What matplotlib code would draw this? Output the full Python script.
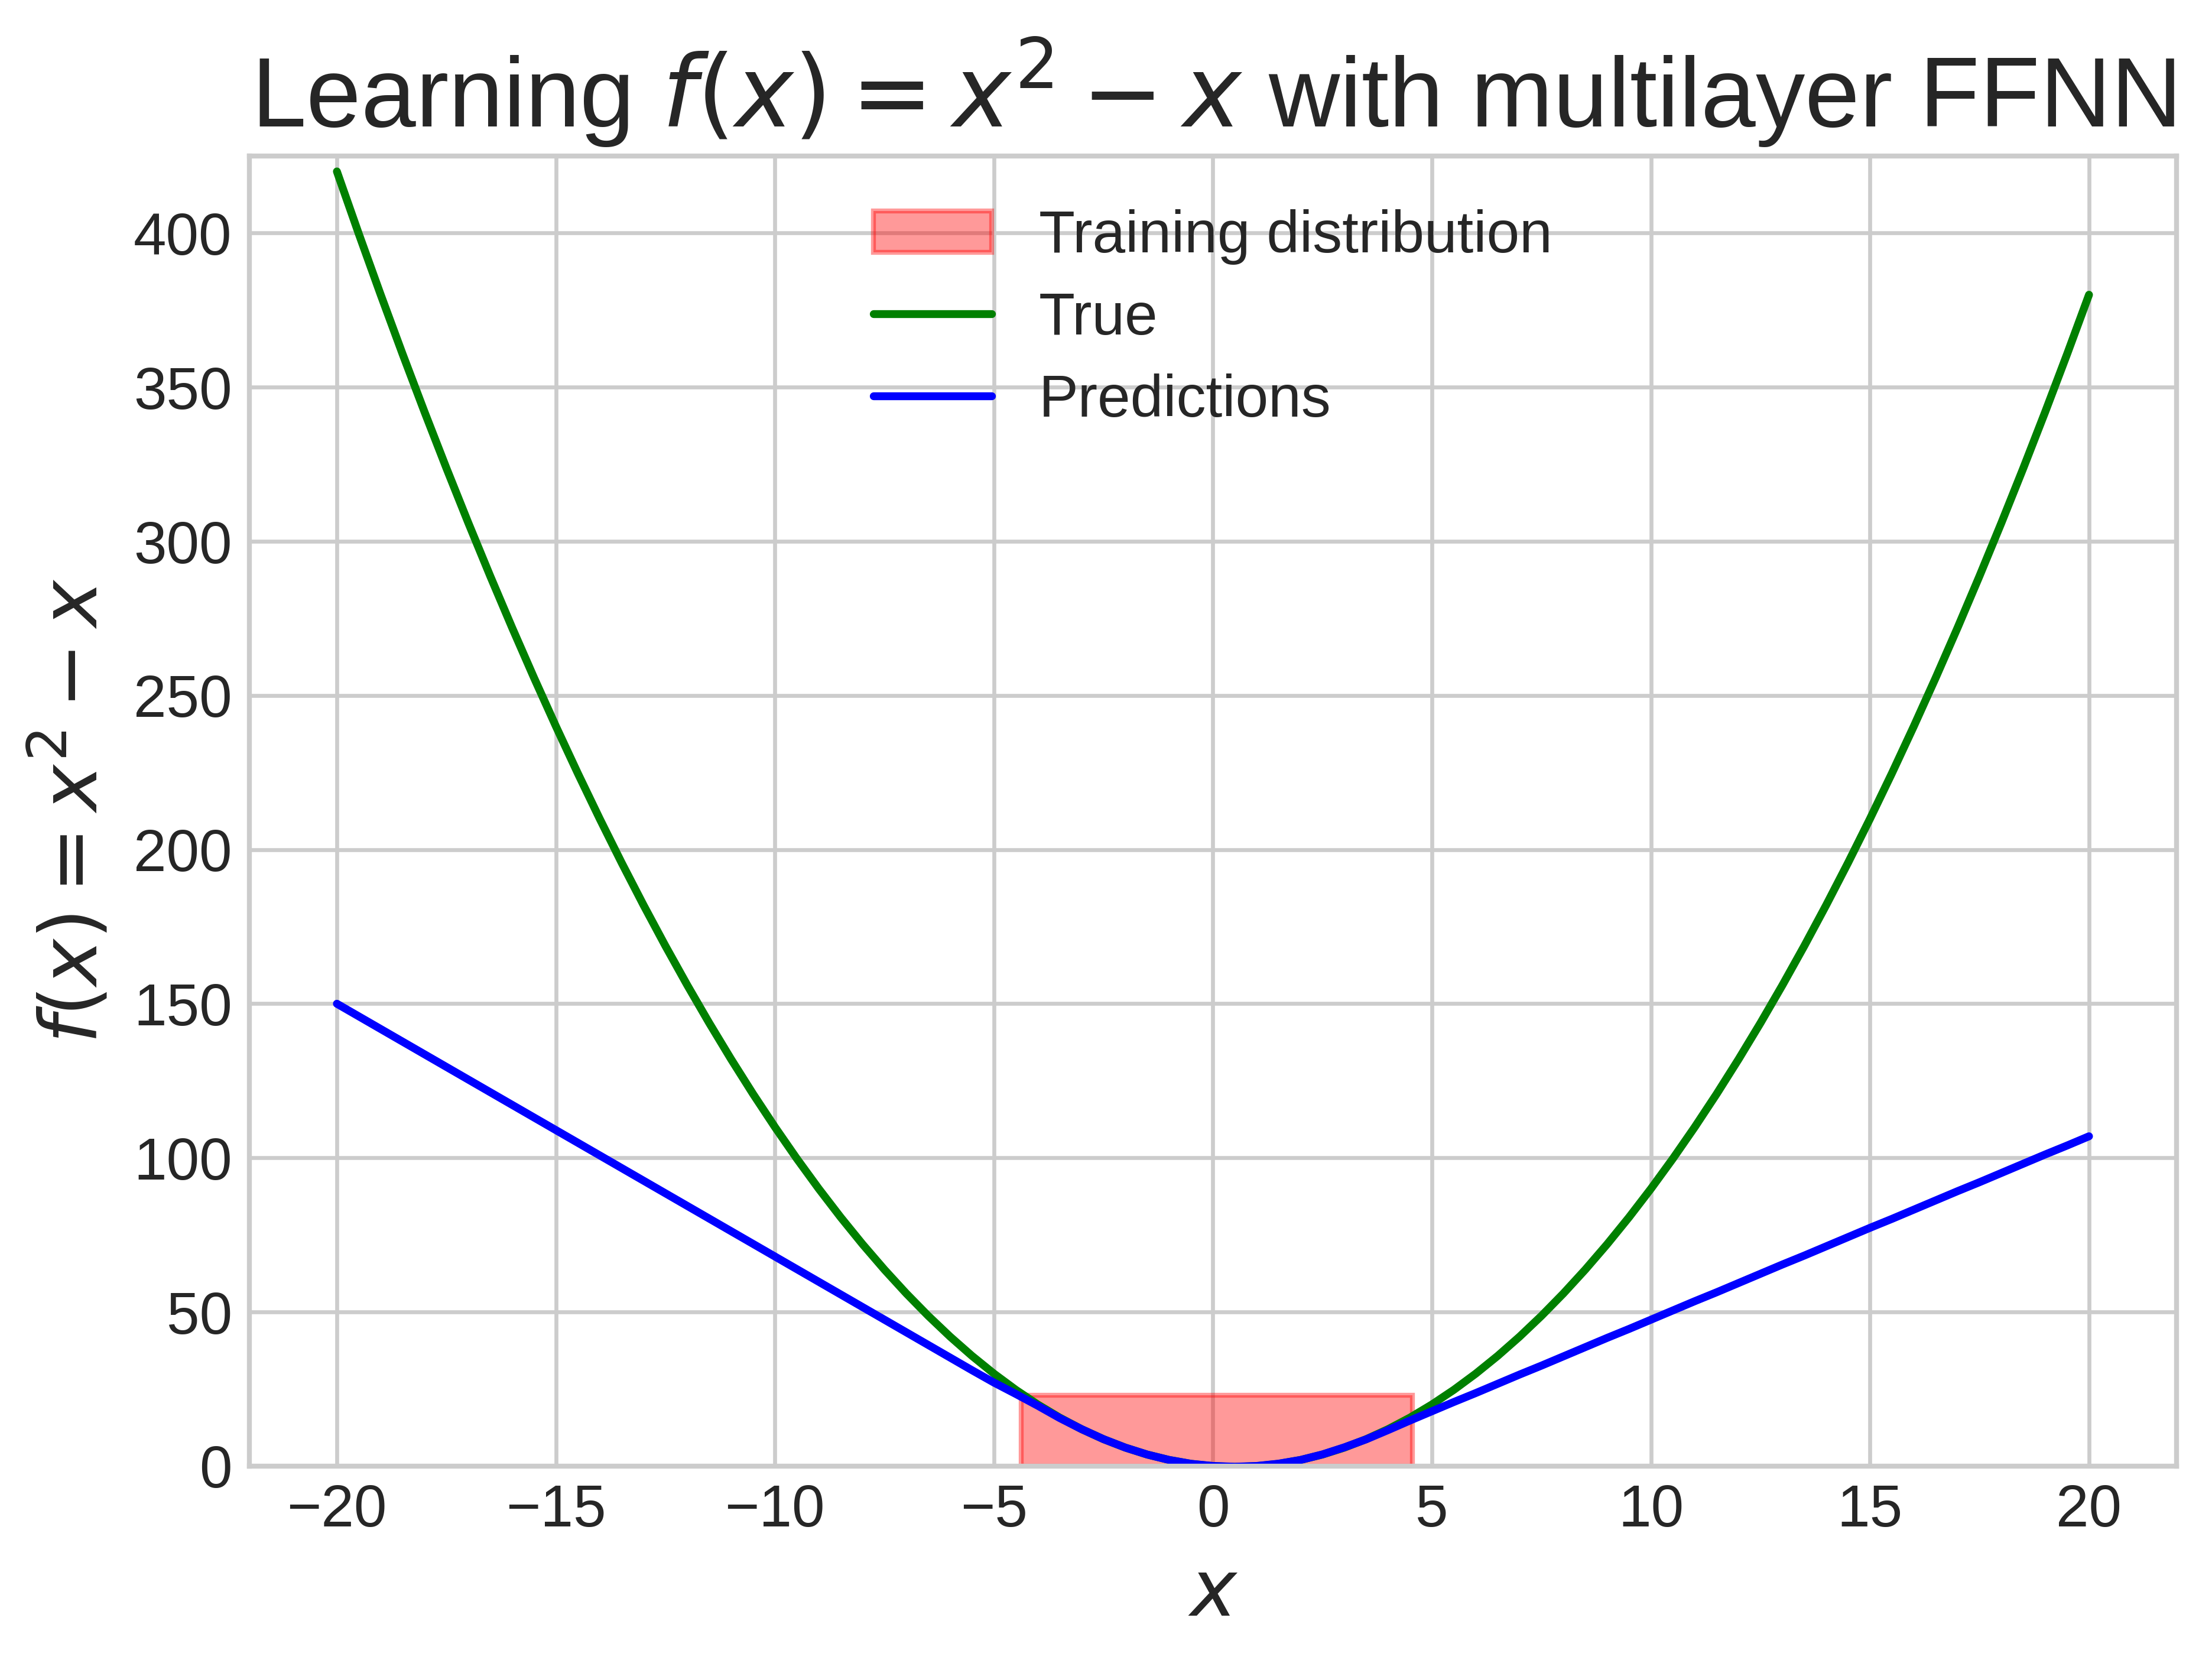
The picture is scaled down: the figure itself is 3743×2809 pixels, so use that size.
import matplotlib
matplotlib.use("Agg")
import matplotlib.pyplot as plt

# Valores, x de -20 a 20 cada 0.5
x_vals = [-20, -19.5, -19, -18.5, -18, -17.5, -17, -16.5, -16, -15.5, -15, -14.5, -14, -13.5,
          -13, -12.5, -12, -11.5, -11, -10.5, -10, -9.5, -9, -8.5, -8, -7.5, -7, -6.5, -6, -5.5,
          -5, -4.5, -4, -3.5, -3, -2.5, -2, -1.5, -1, -0.5, 0, 0.5, 1, 1.5, 2, 2.5, 3, 3.5, 4, 4.5,
          5, 5.5, 6, 6.5, 7, 7.5, 8, 8.5, 9, 9.5, 10, 10.5, 11, 11.5, 12, 12.5, 13, 13.5, 14, 14.5,
          15, 15.5, 16, 16.5, 17, 17.5, 18, 18.5, 19, 19.5, 20]

# Curva verdadera
y_true = [420, 399.75, 380, 360.75, 342, 323.75, 306, 288.75, 272, 255.75, 240, 224.75, 210, 195.75,
          182, 168.75, 156, 143.75, 132, 120.75, 110, 99.75, 90, 80.75, 72, 63.75, 56, 48.75, 42, 35.75,
          30, 24.75, 20, 15.75, 12, 8.75, 6, 3.75, 2, 0.75, 0, -0.25, 0, 0.75, 2, 3.75, 6, 8.75, 12, 15.75,
          20, 24.75, 30, 35.75, 42, 48.75, 56, 63.75, 72, 80.75, 90, 99.75, 110, 120.75, 132, 143.75,
          156, 168.75, 182, 195.75, 210, 224.75, 240, 255.75, 272, 288.75, 306, 323.75, 342, 360.75, 380]

# Predicciones de la red
y_pred = [150, 145.9, 141.8, 137.7, 133.6, 129.5, 125.4, 121.3, 117.2, 113.1, 109, 104.9, 100.8, 96.7,
          92.6, 88.5, 84.4, 80.3, 76.2, 72.1, 68, 63.9, 59.8, 55.7, 51.6, 47.5, 43.4, 39.3, 35.2, 31.1,
          27.1, 23.4, 19.6, 15.6, 12, 8.75, 6, 3.75, 2, 0.75, 0.05, -0.2, 0.05, 0.8, 2, 3.8, 6.1, 8.7, 11.7, 14.8,
          17.8, 20.8, 23.7, 26.7, 29.7, 32.6, 35.6, 38.6, 41.6, 44.5, 47.5, 50.5, 53.5, 56.4, 59.4, 62.4,
          65.4, 68.3, 71.3, 74.3, 77.3, 80.2, 83.2, 86.2, 89.2, 92.1, 95.1, 98.1, 101.1, 104, 107]

# Distribución de entrenamiento (un solo bloque)
train_lo = -4.38
train_hi = 4.55
train_h = 23

plt.style.use("seaborn-v0_8-whitegrid")
plt.rcParams["font.family"] = ["Liberation Sans", "DejaVu Sans"]
plt.rcParams["mathtext.fontset"] = "dejavusans"
plt.rcParams["text.color"] = "#262626"
plt.rcParams["axes.labelcolor"] = "#262626"
plt.rcParams["xtick.color"] = "#262626"
plt.rcParams["ytick.color"] = "#262626"

dpi = 600
fig = plt.figure(figsize=(3743 / dpi, 2809 / dpi), dpi=dpi)
ax = fig.add_axes([0.1127, 0.1168, 0.9840 - 0.1127, 0.9060 - 0.1168])

barras = ax.bar((train_lo + train_hi) / 2, train_h, width=train_hi - train_lo, color="red", alpha=0.4,
                edgecolor="red", linewidth=1, label="Training distribution")
linea_true, = ax.plot(x_vals, y_true, color="green", linewidth=1.6, label="True")
linea_pred, = ax.plot(x_vals, y_pred, color="blue", linewidth=1.6, label="Predictions")

ax.set_xlim(-22, 22)
ax.set_ylim(0, 425)
ax.grid(True, color="#cccccc", linewidth=0.8)
for s in ax.spines.values():
    s.set_color("#cccccc")
    s.set_linewidth(1.0)
ax.tick_params(labelsize=12, length=0, pad=3.5)

ax.set_title("Learning $f(x) = x^2 - x$ with multilayer FFNN", fontsize=20)
ax.set_xlabel("$x$", fontsize=16)
ax.set_ylabel("$f(x) = x^2 - x$", fontsize=16)
ax.legend([barras, linea_true, linea_pred], ["Training distribution", "True", "Predictions"],
          loc="upper center", fontsize=12, frameon=False, labelspacing=0.45)

fig.savefig("out.png", dpi=dpi)
